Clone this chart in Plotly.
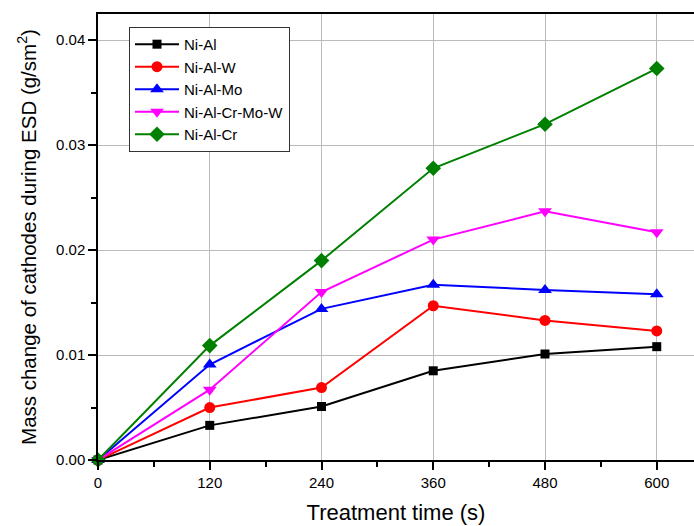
import plotly.graph_objects as go

time_s = [0, 120, 240, 360, 480, 600]
ni_al = [0, 0.0033, 0.0051, 0.0085, 0.0101, 0.0108]
ni_al_w = [0, 0.0050, 0.0069, 0.0147, 0.0133, 0.0123]
ni_al_mo = [0, 0.0091, 0.0144, 0.0167, 0.0162, 0.0158]
ni_al_cr_mo_w = [0, 0.0067, 0.0160, 0.0210, 0.0237, 0.0217]
ni_al_cr = [0, 0.0109, 0.0190, 0.0278, 0.0320, 0.0373]
x_ticks = [0, 120, 240, 360, 480, 600]
y_ticks = [0.00, 0.01, 0.02, 0.03, 0.04]

series = [
    ("Ni-Al", ni_al, "black", "square", 9),
    ("Ni-Al-W", ni_al_w, "red", "circle", 11),
    ("Ni-Al-Mo", ni_al_mo, "blue", "triangle-up", 12),
    ("Ni-Al-Cr-Mo-W", ni_al_cr_mo_w, "magenta", "triangle-down", 12),
    ("Ni-Al-Cr", ni_al_cr, "green", "diamond", 12),
]

fig = go.Figure()
for name, vals, col, sym, sz in series:
    fig.add_trace(go.Scatter(
        x=time_s, y=vals, name=name, mode="lines+markers",
        line=dict(color=col, width=2),
        marker=dict(color=col, symbol=sym, size=sz),
        cliponaxis=False,
    ))

fig.update_layout(
    width=694, height=526,
    margin=dict(l=98, r=0, t=14, b=66, autoexpand=False),
    plot_bgcolor="white", paper_bgcolor="white",
    font=dict(family="Arial, Liberation Sans, sans-serif", size=15, color="black"),
    showlegend=True,
    legend=dict(
        x=0.052, y=0.971, xanchor="left", yanchor="top",
        bordercolor="#333333", borderwidth=1, bgcolor="white",
        font=dict(size=15), tracegroupgap=0, itemwidth=44,
    ),
    xaxis=dict(
        range=[0, 640], tickvals=x_ticks, ticktext=[str(v) for v in x_ticks],
        showgrid=True, gridcolor="#bbbbbb", gridwidth=1,
        showline=True, linecolor="black", linewidth=1.5, mirror=True,
        ticks="outside", ticklen=8, tickcolor="black", tickwidth=1.5,
        minor=dict(dtick=60, tick0=0, ticks="outside", ticklen=5, tickcolor="black", showgrid=False),
        zeroline=False, automargin=False,
        title=dict(text="Treatment time (s)", font=dict(size=22), standoff=15),
        tickfont=dict(size=15),
    ),
    yaxis=dict(
        range=[0, 0.0425], tickvals=y_ticks, tickformat=".2f",
        showgrid=True, gridcolor="#bbbbbb", gridwidth=1,
        showline=True, linecolor="black", linewidth=1.5, mirror=False,
        ticks="outside", ticklen=8, tickcolor="black", tickwidth=1.5,
        minor=dict(dtick=0.005, tick0=0, ticks="outside", ticklen=5, tickcolor="black", showgrid=False),
        zeroline=False, automargin=False,
        title=dict(text="Mass change of cathodes during ESD (g/sm<sup>2</sup>)", font=dict(size=20.5), standoff=14),
        tickfont=dict(size=15),
    ),
)

fig.write_html("out.html", config={"displayModeBar": False},
               post_script="document.body.style.margin='0';document.body.style.overflow='hidden';")
